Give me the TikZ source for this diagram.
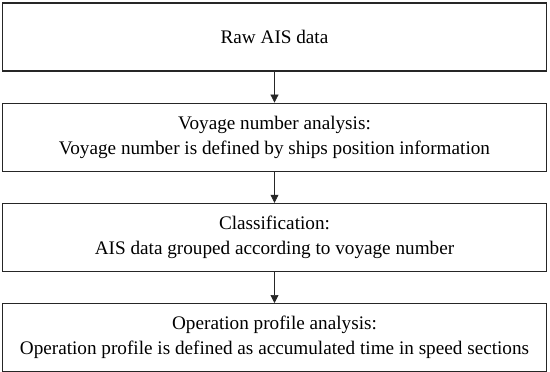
\documentclass[tikz,border=0pt]{standalone}
\usepackage{fontspec}
\setmainfont{Liberation Serif}
\usepackage{tikz}
\usetikzlibrary{arrows.meta,positioning}

\begin{document}
\begin{tikzpicture}[
    x=1pt, y=1pt,
    node distance=31pt,
    stagebox/.style={draw=black!85, line width=1.2pt, minimum width=544pt, minimum height=68pt,
      align=center, inner sep=2pt, font=\fontsize{19.2}{25}\selectfont},
    flowarrow/.style={-{Triangle[length=8pt, width=8pt]}, line width=0.7pt, black!85}
  ]
  \useasboundingbox (0,0) rectangle (550,-372);

  \node[stagebox] (raw) at (274.5,-37) {Raw AIS data};
  \node[stagebox, below=of raw] (voyage) {Voyage number analysis:\\Voyage number is defined by ships position information};
  \node[stagebox, below=of voyage] (classif) {Classification:\\AIS data grouped according to voyage number};
  \node[stagebox, below=of classif] (profile) {Operation profile analysis:\\Operation profile is defined as accumulated time in speed sections};

  \draw[flowarrow] (raw) -- (voyage);
  \draw[flowarrow] (voyage) -- (classif);
  \draw[flowarrow] (classif) -- (profile);
\end{tikzpicture}
\end{document}
